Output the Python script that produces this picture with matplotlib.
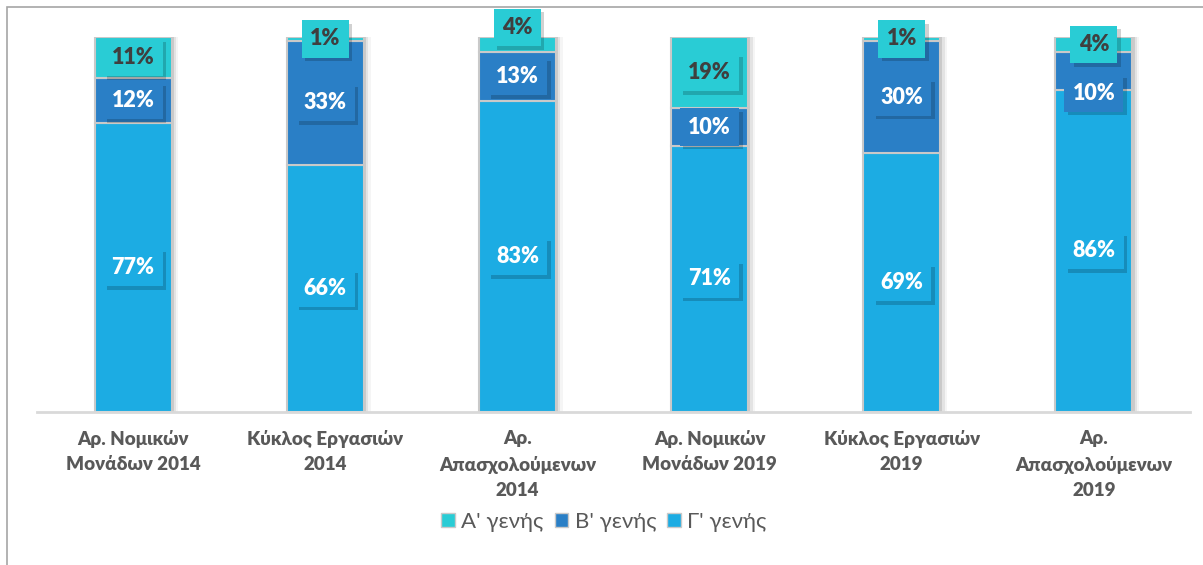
import matplotlib
matplotlib.use("Agg")
import matplotlib.pyplot as plt
from matplotlib.patches import Rectangle
import matplotlib.patheffects as pe
import numpy as np

categories = ["Αρ. Νομικών\nΜονάδων 2014", "Κύκλος Εργασιών\n2014", "Αρ.\nΑπασχολούμενων\n2014",
              "Αρ. Νομικών\nΜονάδων 2019", "Κύκλος Εργασιών\n2019", "Αρ.\nΑπασχολούμενων\n2019"]
series_names = ["Α' γενής", "Β' γενής", "Γ' γενής"]
gen_a = [11, 1, 4, 19, 1, 4]
gen_b = [12, 33, 13, 10, 30, 10]
gen_c = [77, 66, 83, 71, 69, 86]
colors = ["#29CCD5", "#2A7FC6", "#1CACE3"]
text_colors = ["#3F3F3F", "white", "white"]

# manual label nudges (series index, bar index) -> shift in data units
label_shift = {(2, 2): 4.5, (1, 5): -6.0}

plt.rcParams['font.family'] = ['Lato', 'DejaVu Sans']

fig = plt.figure(figsize=(12.03, 5.65), dpi=100)
ax = fig.add_axes([37/1203, (565-412)/565, (1190-37)/1203, (412-37)/565])

# outer border
fig.patches.append(Rectangle((7/1203, -0.1), 1.2, (565-7)/565 + 0.1, transform=fig.transFigure,
                             fill=False, edgecolor="#A6A6A6", linewidth=1.2))

x = np.arange(len(categories))
width = 0.40
series = [gen_c, gen_b, gen_a]
sc = [colors[2], colors[1], colors[0]]
stc = [text_colors[2], text_colors[1], text_colors[0]]

# shadow
totals = np.array(gen_a) + np.array(gen_b) + np.array(gen_c)
for k, a in enumerate([0.10, 0.07, 0.04]):
    ax.bar(x + 0.012 + k * 0.012, totals, width, bottom=0, color="black", alpha=a, zorder=1, linewidth=0)

bottom = np.zeros(len(categories))
for si, (vals, col, tc) in enumerate(zip(series, sc, stc)):
    vals = np.array(vals)
    ax.bar(x, vals, width, bottom=bottom, color=col, edgecolor="#C9C9C9", linewidth=1.5, zorder=2)
    for xi, v, b in zip(x, vals, bottom):
        ypos = b + v / 2 + label_shift.get((si, xi), 0)
        t = ax.text(xi, ypos, f"{v}%", ha="center", va="center", fontsize=15.5, fontweight="heavy",
                    color=tc, zorder=5,
                    bbox=dict(boxstyle="square,pad=0.38", facecolor=col, edgecolor="none"))
        t.get_bbox_patch().set_path_effects([
            pe.SimplePatchShadow(offset=(2.5, -2.5), shadow_rgbFace="black", alpha=0.18), pe.Normal()])
    bottom += vals

ax.set_xlim(-0.5, len(categories) - 0.5)
ax.set_ylim(0, 100)
ax.set_yticks([])
for s in ["top", "right", "left"]:
    ax.spines[s].set_visible(False)
ax.spines["bottom"].set_color("#D9D9D9")
ax.spines["bottom"].set_linewidth(2)
ax.set_xticks(x)
ax.set_xticklabels(categories, fontsize=13.5, fontweight="heavy", color="#595959", linespacing=1.6)
ax.tick_params(axis="x", length=0, pad=13)

handles = [Rectangle((0, 0), 1, 1, facecolor=c, edgecolor="#C9C9C9") for c in colors]
fig.legend(handles, series_names, loc="center", bbox_to_anchor=(604/1203, 1 - 522/565), ncol=3,
           frameon=False, fontsize=16, labelcolor="#595959", handlelength=0.6, handleheight=0.6,
           handletextpad=0.3, columnspacing=0.5)

fig.savefig("out.png", dpi=100)
